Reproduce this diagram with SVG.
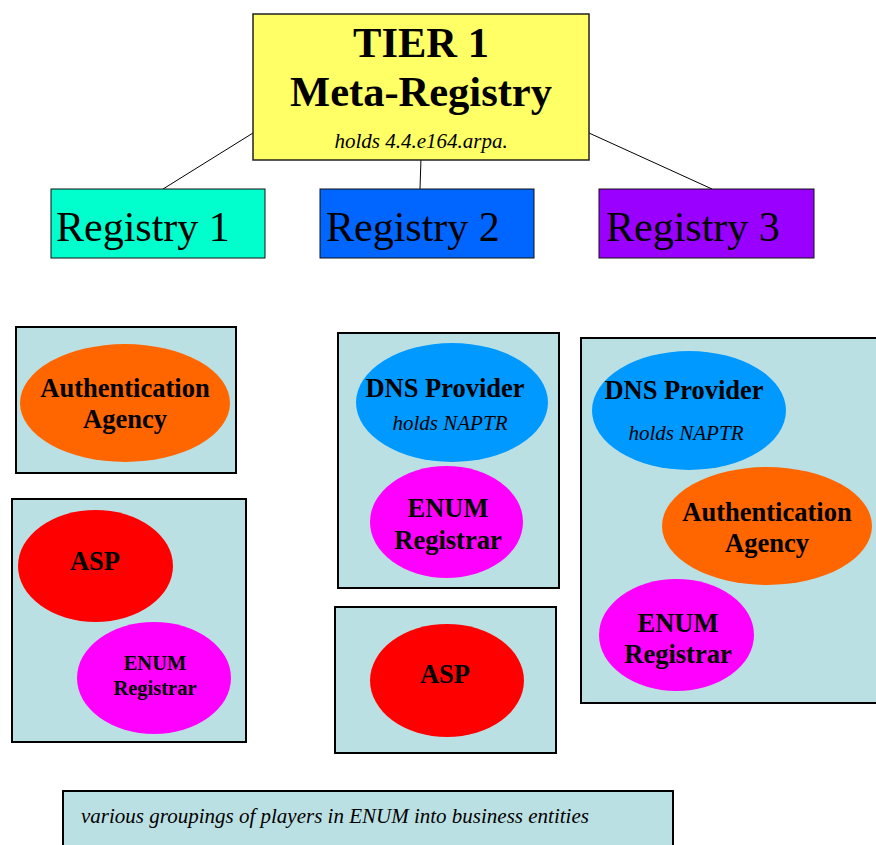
<svg xmlns="http://www.w3.org/2000/svg" width="876" height="845" viewBox="0 0 876 845">
  <style>
    .bg { fill: #ffffff; }
    .tier { fill: #ffff66; stroke: #222; stroke-width: 1.5; }
    .reg { stroke: #111; stroke-width: 1; }
    .group { fill: #bbe0e3; stroke: #000; stroke-width: 2; }
    .conn { stroke: #000; stroke-width: 1; fill: none; }
    .b { font-family: "Liberation Serif", "Times New Roman", serif; font-weight: bold; fill: #000; text-anchor: middle; }
    .i { font-family: "Liberation Serif", "Times New Roman", serif; font-style: italic; fill: #000; font-size: 21px; }
    .r { font-family: "Liberation Serif", "Times New Roman", serif; fill: #000; font-size: 42px; }
    .auth { fill: #ff6600; }
    .asp { fill: #ff0000; }
    .enum { fill: #ff00ff; }
    .dns { fill: #0099ff; }
  </style>
  <rect class="bg" x="0" y="0" width="876" height="845"/>

  <!-- hierarchy connectors -->
  <g id="connectors">
    <line class="conn" x1="253" y1="133" x2="163" y2="189"/>
    <line class="conn" x1="421" y1="158" x2="420" y2="189"/>
    <line class="conn" x1="589" y1="133" x2="712" y2="189"/>
  </g>

  <g id="tier1">
    <rect class="tier" x="253" y="14" width="336" height="146"/>
    <text class="b" x="421" y="57" font-size="42.5">TIER 1</text>
    <text class="b" x="421" y="106" font-size="42.5">Meta-Registry</text>
    <text class="i" x="421" y="148" text-anchor="middle">holds 4.4.e164.arpa.</text>
  </g>

  <g id="registry1">
    <rect class="reg" x="51" y="189" width="214" height="69" fill="#00ffcc"/>
    <text class="r" x="56" y="241">Registry 1</text>
  </g>
  <g id="registry2">
    <rect class="reg" x="320" y="189" width="214" height="69" fill="#0066ff"/>
    <text class="r" x="326" y="241">Registry 2</text>
  </g>
  <g id="registry3">
    <rect class="reg" x="599" y="189" width="215" height="69" fill="#9900ff"/>
    <text class="r" x="606" y="241">Registry 3</text>
  </g>

  <!-- business entity groupings -->
  <g id="group-auth">
    <rect class="group" x="16" y="327" width="220" height="146"/>
    <ellipse class="auth" cx="125" cy="403" rx="105" ry="59"/>
    <text class="b" x="125" y="397" font-size="26.5">Authentication</text>
    <text class="b" x="125" y="428" font-size="26.5">Agency</text>
  </g>

  <g id="group-asp-enum">
    <rect class="group" x="12" y="499" width="234" height="243"/>
    <ellipse class="asp" cx="95.5" cy="566" rx="77.5" ry="56"/>
    <text class="b" x="95" y="570" font-size="26.5">ASP</text>
    <ellipse class="enum" cx="154" cy="678" rx="77" ry="56"/>
    <text class="b" x="155" y="670" font-size="20.5">ENUM</text>
    <text class="b" x="155" y="695" font-size="20.5">Registrar</text>
  </g>

  <g id="group-dns-enum">
    <rect class="group" x="338" y="333" width="221" height="255"/>
    <ellipse class="dns" cx="452" cy="402.5" rx="96" ry="59.5"/>
    <text class="b" x="445" y="397" font-size="26.5">DNS Provider</text>
    <text class="i" x="450" y="430" text-anchor="middle">holds NAPTR</text>
    <ellipse class="enum" cx="446.5" cy="522" rx="76.5" ry="56"/>
    <text class="b" x="448" y="517" font-size="26.5">ENUM</text>
    <text class="b" x="448" y="549" font-size="26.5">Registrar</text>
  </g>

  <g id="group-asp">
    <rect class="group" x="335" y="607" width="221" height="146"/>
    <ellipse class="asp" cx="447" cy="680.5" rx="77" ry="56.5"/>
    <text class="b" x="445" y="683" font-size="26.5">ASP</text>
  </g>

  <g id="group-dns-auth-enum">
    <rect class="group" x="581" y="338" width="310" height="365"/>
    <ellipse class="dns" cx="689" cy="410.5" rx="97" ry="59.5"/>
    <text class="b" x="684" y="399" font-size="26.5">DNS Provider</text>
    <text class="i" x="686" y="440" text-anchor="middle">holds NAPTR</text>
    <ellipse class="auth" cx="767" cy="526" rx="105" ry="59"/>
    <text class="b" x="767" y="521" font-size="26.5">Authentication</text>
    <text class="b" x="767" y="552" font-size="26.5">Agency</text>
    <ellipse class="enum" cx="676.5" cy="635" rx="77.5" ry="56"/>
    <text class="b" x="678" y="632" font-size="26.5">ENUM</text>
    <text class="b" x="678" y="663" font-size="26.5">Registrar</text>
  </g>

  <g id="caption">
    <rect class="group" x="63" y="791" width="610" height="70"/>
    <text class="i" x="81" y="823" font-size="21.8">various groupings of players in ENUM into business entities</text>
  </g>
</svg>
